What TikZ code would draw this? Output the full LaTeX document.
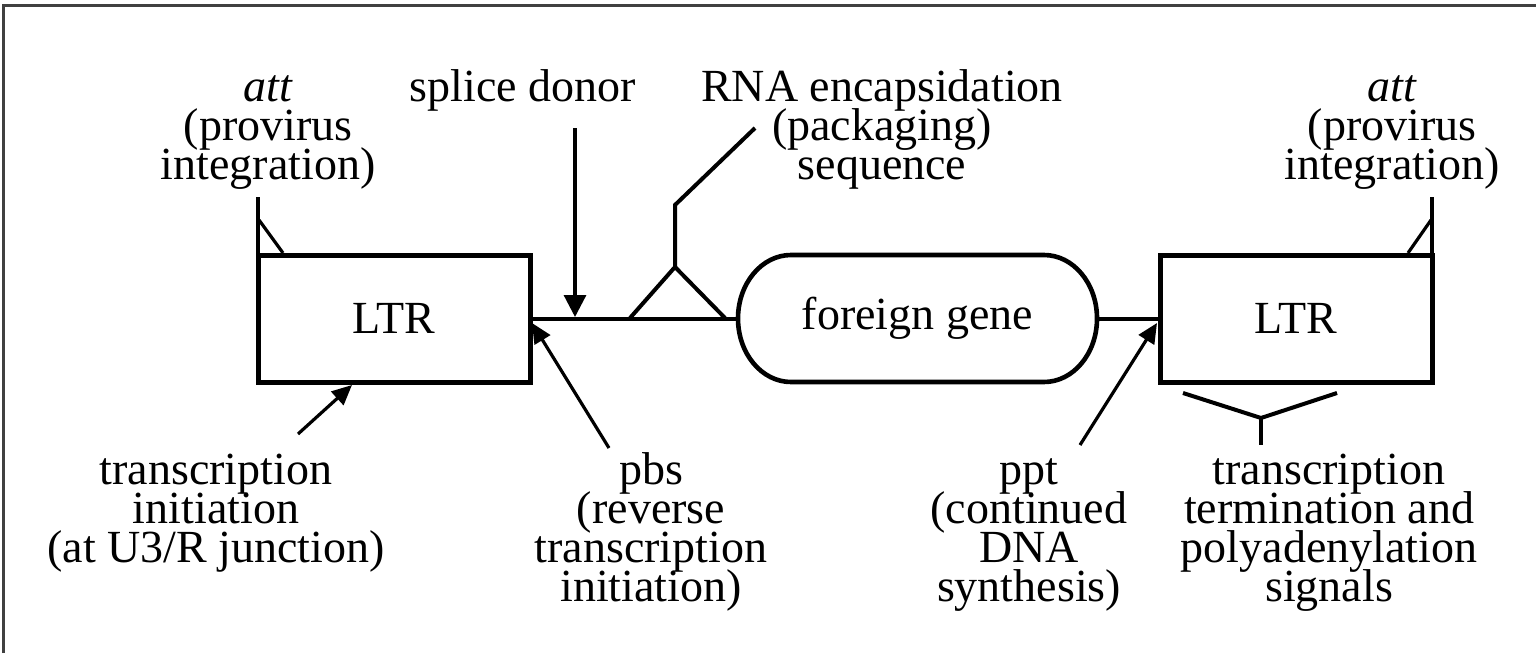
\documentclass[tikz,border=0pt]{standalone}
\usepackage{fontspec}
\setmainfont{Liberation Serif}
\usetikzlibrary{arrows.meta}
\newcommand\lns[1]{\vtop{\lineskiplimit=-100pt\relax\halign{\hfil##\hfil\cr#1\crcr}}}
\begin{document}
\begin{tikzpicture}[x=0.5pt,y=-0.5pt,
  every node/.style={inner sep=0pt,outer sep=0pt,font=\fontsize{23}{19.5}\selectfont},
  lbl/.style={anchor=base},
  ltrbox/.style={draw,line width=2.5pt,minimum width=136pt,minimum height=63.5pt},
  mainline/.style={line width=2pt},
  thinline/.style={line width=1.6pt},
  thickline/.style={line width=2.4pt},
  arrowline/.style={line width=1.6pt,-{Triangle[length=10pt,width=9pt]}},
  frameline/.style={line width=1.5pt,black!75}]
\useasboundingbox (0,0) rectangle (1536,653);
% frame
\draw[frameline] (3,653) -- (3,5) -- (1536,5);

% main elements
\node[ltrbox] (ltrL) at (394,318.5) {LTR};
\node[ltrbox] (ltrR) at (1296,318.5) {LTR};
\node[minimum width=179.5pt,minimum height=64pt] (fg) at (917.5,318.5) {foreign gene};
\draw[line width=2.3pt] (791,255) -- (1044,255)
  arc[start angle=-90,end angle=90,x radius=53,y radius=63.5] -- (791,382)
  arc[start angle=90,end angle=270,x radius=53,y radius=63.5] -- cycle;

\draw[mainline] (ltrL.east) -- (fg.west);
\draw[mainline] (fg.east) -- (ltrR.west);

% labels
\node[lbl] (attL) at (268,101) {\lns{\textit{att}\cr(provirus\cr integration)}};
\node[lbl] (sd) at (523,101) {splice donor};
\node[lbl] (rna) at (882,101) {\lns{RNA encapsidation\cr(packaging)\cr sequence}};
\node[lbl] (attR) at (1392,101) {\lns{\textit{att}\cr(provirus\cr integration)}};
\node[lbl] (ti) at (216,484) {\lns{transcription\cr initiation\cr(at U3/R junction)}};
\node[lbl] (pbs) at (651,484) {\lns{pbs\cr(reverse\cr transcription\cr initiation)}};
\node[lbl] (ppt) at (1029,484) {\lns{ppt\cr(continued\cr DNA\cr synthesis)}};
\node[lbl] (tt) at (1329,484) {\lns{transcription\cr termination and\cr polyadenylation\cr signals}};

% connector coordinates
\coordinate (sdTop) at (575,128);
\coordinate (sdTip) at (575,317);
\coordinate (pkL) at (630,318);
\coordinate (pkA) at (675,267);
\coordinate (pkR) at (725,318);
\coordinate (pkV) at (675,205);
\coordinate (pkE) at (755,128);
\coordinate (attLtop) at (258,197);
\coordinate (attLbot) at (258,255);
\coordinate (attLd1) at (259,220);
\coordinate (attLd2) at (283,253);
\coordinate (attRtop) at (1432,197);
\coordinate (attRbot) at (1432,255);
\coordinate (attRd1) at (1431,220);
\coordinate (attRd2) at (1408,253);
\coordinate (brL) at (1183,393);
\coordinate (brM) at (1261,418);
\coordinate (brR) at (1337,393);
\coordinate (brS) at (1261,445);
\coordinate (tiS) at (298,434);
\coordinate (tiT) at (352,385);
\coordinate (pbsS) at (609,448);
\coordinate (pbsT) at (532,323);
\coordinate (pptS) at (1080,445);
\coordinate (pptT) at (1157,323);

% connectors
\draw[arrowline,-{Triangle[length=11pt,width=11pt]}] (sdTop) -- (sdTip);
\draw[mainline,line join=miter] (pkL) -- (pkA) -- (pkR);
\draw[mainline] (pkA) -- (pkV) -- (pkE);
\draw[thickline] (attLtop) -- (attLbot);
\draw[thinline] (attLd1) -- (attLd2);
\draw[thickline] (attRtop) -- (attRbot);
\draw[thinline] (attRd1) -- (attRd2);
\draw[mainline] (brL) -- (brM) -- (brR);
\draw[mainline] (brM) -- (brS);
\draw[arrowline] (tiS) -- (tiT);
\draw[arrowline] (pbsS) -- (pbsT);
\draw[arrowline] (pptS) -- (pptT);
\end{tikzpicture}
\end{document}
